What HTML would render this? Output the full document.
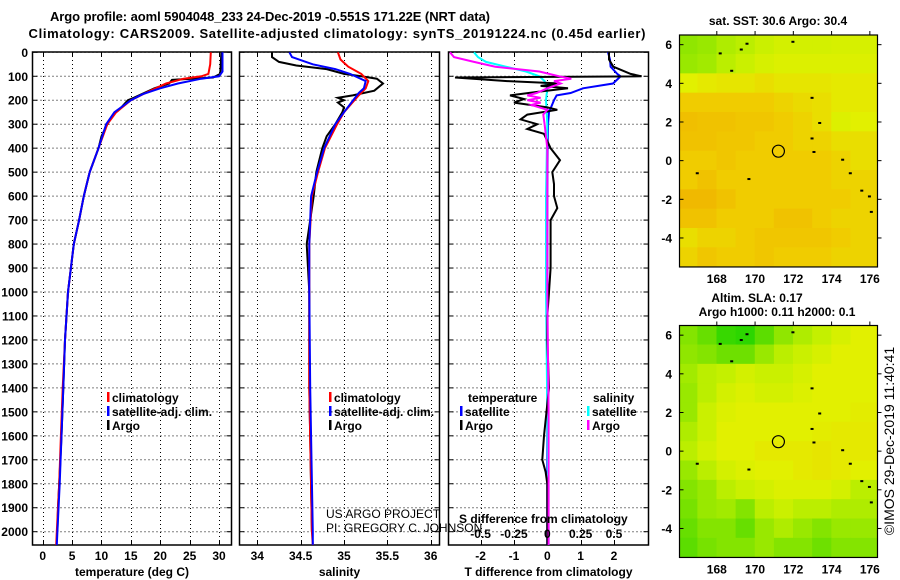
<!DOCTYPE html>
<html><head><meta charset="utf-8"><style>
html,body{margin:0;padding:0;background:#fff;}
svg{display:block;font-family:"Liberation Sans",sans-serif;}
.b{font-weight:bold;font-size:12px;}
.n{font-size:12px;}
</style></head><body>
<svg id="fig" width="900" height="580" viewBox="0 0 900 580" xmlns="http://www.w3.org/2000/svg">
<rect width="900" height="580" fill="#fff"/>
<text x="270" y="21" text-anchor="middle" class="b" style="font-size:13px" textLength="440">Argo profile: aoml 5904048_233 24-Dec-2019 -0.551S 171.22E (NRT data)</text>
<text x="337" y="38" text-anchor="middle" class="b" style="font-size:13px" textLength="617">Climatology: CARS2009. Satellite-adjusted climatology: synTS_20191224.nc (0.45d earlier)</text>
<g id="g"></g>
</svg>
<script>
// ---------- data ----------
const depthTicks = [0,100,200,300,400,500,600,700,800,900,1000,1100,1200,1300,1400,1500,1600,1700,1800,1900,2000];
const tempTicks = [0,5,10,15,20,25,30];
const salTicks = [34,34.5,35,35.5,36];
const tdiffTicks = [-2,-1,0,1,2];
const sdiffTicks = [-0.5,-0.25,0,0.25,0.5];
const latTicks = [6,4,2,0,-2,-4];
const lonTicks = [168,170,172,174,176];

const tClimDepth = [0,50,90,100,110,130,170,200,250,300,400,500,600,700,800,900,1000,1200,1400,1600,1800,2000,2055];
const tClim      = [28.6,28.5,28.2,27,24,21,17.5,15,12.5,11,9.5,8,7,6.2,5.3,4.8,4.3,3.8,3.4,3.1,2.8,2.4,2.3];
const tSatDepth  = [0,80,100,110,130,150,175,200,250,300,400,500,600,700,800,900,1000,1200,1400,1600,1800,2000,2055];
const tSat       = [30.6,30.6,30.0,27,23,20,17,15,12.2,10.8,9.5,8,7,6.2,5.3,4.8,4.3,3.8,3.5,3.2,2.9,2.5,2.4];
const tArgoDepth = [0,90,105,115,130,150,190,200,240,260,300,350,400,500,600,700,800,900,1000,1200,1400,1600,1800,1900,2000];
const tArgo      = [30.4,30.2,29,22,21.5,19,15.5,14.5,13,12,11,10,9.5,8,7,6.2,5.3,4.8,4.3,3.8,3.5,3.2,2.8,2.6,2.5];

const sClimDepth = [0,30,60,90,120,150,180,250,300,400,500,600,800,1000,1400,2000,2055];
const sClim      = [34.93,34.96,35.05,35.2,35.28,35.25,35.17,35.0,34.92,34.78,34.7,34.63,34.6,34.6,34.6,34.63,34.64];
const sSatDepth  = [0,20,50,70,90,120,150,170,250,300,400,500,600,800,1000,1400,2000,2055];
const sSat       = [34.37,34.4,34.64,34.9,35.07,35.25,35.23,35.17,35.0,34.9,34.77,34.69,34.62,34.6,34.6,34.61,34.64,34.64];
const sArgoDepth = [0,20,40,55,70,90,100,110,130,160,180,190,200,210,230,250,300,350,400,500,600,800,1000,1400,2000];
const sArgo      = [34.17,34.17,34.25,34.45,34.8,35.0,35.2,35.38,35.45,35.35,35.1,34.93,35.0,34.93,35.0,34.98,34.9,34.8,34.75,34.68,34.65,34.57,34.6,34.6,34.63];

const dTSatDepth = [0,30,60,90,100,130,150,170,180,200,250,300,400,600,1000,1500,2000,2055];
const dTSat      = [1.82,1.88,1.9,2.1,2.2,1.97,1.07,0.7,0.28,0.2,0.05,0.02,0.01,0,0,0,0,0];
const dTArgoDepth = [0,30,60,90,100,105,120,130,140,150,165,180,195,210,230,240,260,280,300,320,340,400,450,500,550,600,650,700,800,900,1000,1100,1200,1400,1600,1700,1750,1800,2000,2055];
const dTArgo      = [1.85,1.85,1.98,2.5,2.83,-2.77,-1.2,0.4,-0.2,0.62,-0.3,-1.12,-0.7,-1.0,0.0,0.3,-0.6,-0.8,-0.3,-0.6,-0.1,0.1,0.38,0.15,0.2,0.2,0.3,0.1,0.1,0.1,0.05,0,0,0.05,-0.1,-0.15,-0.05,0,0,0];
const dSSatDepth = [0,20,40,60,80,100,120,150,200,300,600,1000,1500,2000,2055];
const dSSat      = [-0.55,-0.52,-0.46,-0.31,-0.16,-0.06,-0.02,0,-0.01,0,-0.01,-0.01,0,0.01,0.01];
const dSArgoDepth = [0,20,40,60,80,100,110,120,130,150,170,180,190,200,210,220,240,260,300,400,1000,1500,2000,2055];
const dSArgo      = [-0.73,-0.7,-0.55,-0.39,-0.06,0.09,0.18,0.05,0.1,0.0,-0.08,-0.15,-0.05,-0.15,-0.05,-0.12,0,-0.03,-0.02,0,0,0.01,0.01,0.01];

// map grids: rows lat 6..-5 (1 deg cells), cols lon 166..176
const sstGrid = [
[.38,.4,.45,.48,.52,.55,.55,.55,.56,.56],
[.4,.42,.48,.52,.56,.58,.58,.58,.58,.58],
[.6,.62,.63,.63,.65,.63,.63,.63,.62,.62],
[.7,.7,.7,.7,.7,.68,.66,.65,.62,.62],
[.74,.73,.73,.72,.72,.7,.68,.65,.58,.6],
[.73,.73,.72,.72,.7,.7,.68,.68,.65,.65],
[.7,.7,.72,.7,.7,.7,.7,.7,.68,.65],
[.7,.73,.7,.7,.7,.7,.7,.7,.68,.68],
[.76,.76,.73,.7,.7,.7,.7,.7,.7,.68],
[.73,.73,.7,.7,.7,.73,.73,.7,.68,.68],
[.65,.68,.68,.7,.72,.72,.72,.72,.7,.68],
[.68,.72,.7,.7,.72,.7,.7,.7,.68,.68]];
const slaGrid = [
[.35,.28,.15,.12,.25,.38,.45,.5,.56,.6],
[.38,.35,.3,.3,.4,.48,.52,.56,.6,.6],
[.42,.48,.5,.55,.52,.52,.56,.6,.6,.6],
[.4,.48,.55,.58,.55,.55,.58,.6,.6,.6],
[.4,.52,.58,.6,.6,.6,.6,.6,.6,.61],
[.45,.52,.6,.6,.6,.6,.6,.61,.62,.62],
[.48,.55,.6,.6,.62,.62,.62,.63,.62,.62],
[.4,.48,.55,.58,.6,.6,.62,.63,.62,.6],
[.35,.4,.48,.52,.55,.58,.58,.58,.55,.48],
[.32,.4,.42,.35,.48,.52,.48,.48,.45,.45],
[.28,.35,.35,.28,.4,.45,.4,.35,.4,.4],
[.25,.32,.35,.35,.4,.35,.35,.3,.35,.35]];
const coastLon = [168.1,169.2,169.5,168.7,171.9,172.9,173.3,172.9,173.0,174.5,174.9,175.5,175.9,176.0,166.9,169.6];
const coastLat = [5.6,5.8,6.1,4.7,6.2,3.3,2.0,1.2,0.5,0.1,-0.6,-1.5,-1.8,-2.6,-0.6,-0.9];
const floatLon = 171.22, floatLat = 0.49;

// ---------- axes ----------
const NS="http://www.w3.org/2000/svg";
const G=document.getElementById('g');
function el(t,a,p){const e=document.createElementNS(NS,t);for(const k in a)e.setAttribute(k,a[k]);(p||G).appendChild(e);return e;}
const yD = d => 52.3 + d*0.2397;
const xT = v => 42.7 + v*5.877;
const xS = v => 257.3 + (v-34)*86.7;
const xDT = v => 547.3 + v*33.33;
const xDS = v => 547.3 + v*133.3;
const TOP=52, BOT=545;
const panels=[{x0:32.5,x1:231.5,ticks:tempTicks,f:xT,name:'temperature-panel',title:'temperature (deg C)'},
 {x0:239.5,x1:439.5,ticks:salTicks,f:xS,name:'salinity-panel',title:'salinity'},
 {x0:448.5,x1:648.5,ticks:tdiffTicks,f:xDT,name:'difference-panel',title:'T difference from climatology'}];

panels.forEach(p=>{
  const g=el('g',{});
  
  
  depthTicks.forEach(d=>{const y=yD(d);
    el('line',{x1:p.x0,x2:p.x1,y1:y,y2:y,stroke:'#000','stroke-width':1,'stroke-dasharray':'1,3'},g);
    el('line',{x1:p.x0,x2:p.x0+5,y1:y,y2:y,stroke:'#000'},g);
    el('line',{x1:p.x1-5,x2:p.x1,y1:y,y2:y,stroke:'#000'},g);});
  p.ticks.forEach(v=>{const x=Math.round(p.f(v))+0.5;
    el('line',{x1:x,x2:x,y1:TOP,y2:BOT,stroke:'#000','stroke-dasharray':'1,3'},g);
    el('line',{x1:x,x2:x,y1:BOT-5,y2:BOT,stroke:'#000'},g);
    el('line',{x1:x,x2:x,y1:TOP,y2:TOP+5,stroke:'#000'},g);
    const t=el('text',{x:p.f(v),y:560,'text-anchor':'middle',class:'b'},g);t.textContent=String(v);
    
    });
  el('rect',{x:p.x0,y:TOP,width:p.x1-p.x0,height:BOT-TOP,fill:'none',stroke:'#000','stroke-width':1.5},g);
  const tt=el('text',{x:(p.x0+p.x1)/2,y:576,'text-anchor':'middle',class:'b'},g);tt.textContent=p.title;
  
  
});
depthTicks.forEach(d=>{const t=el('text',{x:28,y:yD(d)+4.5,'text-anchor':'end',class:'b'});t.textContent=String(d);
  
  });

function line(depths,vals,fx,color,name,w){
  const pts=depths.map((d,i)=>fx(vals[i]).toFixed(1)+','+Math.min(yD(d),BOT).toFixed(1)).join(' ');
  const e=el('polyline',{points:pts,fill:'none',stroke:color,'stroke-width':w||2,'stroke-linejoin':'miter'});
  
  
}
line(tArgoDepth,tArgo,xT,'#000','temp-argo-line');
line(tClimDepth,tClim,xT,'#f00','temp-climatology-line');
line(tSatDepth,tSat,xT,'#00f','temp-satellite-line');
line(sArgoDepth,sArgo,xS,'#000','sal-argo-line');
line(sClimDepth,sClim,xS,'#f00','sal-climatology-line');
line(sSatDepth,sSat,xS,'#00f','sal-satellite-line');
line(dTSatDepth,dTSat,xDT,'#00f','tdiff-satellite-line');
line(dSSatDepth,dSSat,xDS,'#0ff','sdiff-satellite-line');
line(dTArgoDepth,dTArgo,xDT,'#000','tdiff-argo-line');
line(dSArgoDepth,dSArgo,xDS,'#f0f','sdiff-argo-line');

sdiffTicks.forEach(v=>{const t=el('text',{x:xDS(v),y:538,'text-anchor':'middle',class:'b'});t.textContent=String(v);
  
  });
function txt(x,y,s,name,cls,extra){const t=el('text',Object.assign({x:x,y:y,class:cls||'b'},extra||{}));t.textContent=s;
  return t;}
txt(459,523,'S difference from climatology','sdiff-axis-title');
function leg(x,y,c,s,name){el('rect',{x:x,y:y-10,width:2.5,height:10,fill:c});txt(x+5,y,s,name);}
leg(107,402,'#f00','climatology','legend-climatology');
leg(107,416,'#00f','satellite-adj. clim.','legend-satellite');
leg(107,430,'#000','Argo','legend-argo');
leg(329,402,'#f00','climatology','legend-climatology-sal');
leg(329,416,'#00f','satellite-adj. clim.','legend-satellite-sal');
leg(329,430,'#000','Argo','legend-argo-sal');
txt(468,402,'temperature','legend-temperature-head');
leg(460,416,'#00f','satellite','legend-tdiff-satellite');
leg(460,430,'#000','Argo','legend-tdiff-argo');
txt(593,402,'salinity','legend-salinity-head');
leg(587,416,'#0ff','satellite','legend-sdiff-satellite');
leg(587,430,'#f0f','Argo','legend-sdiff-argo');
txt(326,518,'US ARGO PROJECT','credit-project','n');
txt(326,532,'PI: GREGORY C. JOHNSON','credit-pi','n');

// ---------- maps ----------
const stops=[[0,[0,208,0]],[0.3,[110,224,0]],[0.5,[196,240,0]],[0.6,[226,240,0]],[0.7,[240,204,0]],[0.8,[240,172,0]]];
function col(v){for(let i=1;i<stops.length;i++){if(v<=stops[i][0]||i==stops.length-1){const a=stops[i-1],b=stops[i];let t=(v-a[0])/(b[0]-a[0]);t=Math.max(0,Math.min(1,t));
  return 'rgb('+a[1].map((c,k)=>Math.round(c+(b[1][k]-c)*t)).join(',')+')';}}}
function drawMap(top,grid,name,id){
  const X0=679.5,X1=877.5,lonA=166.05,lonB=176.4;
  const xL=l=>X0+(l-lonA)*(X1-X0)/(lonB-lonA);
  const y0=top+0.5*19.33+6*19.33; const yL=l=>y0-l*19.33;
  const g=el('g',{});
  
  
  const cp=el('clipPath',{id:id},g);el('rect',{x:X0,y:yL(6.5),width:X1-X0,height:yL(-5.5)-yL(6.5)},cp);
  const cg=el('g',{'clip-path':'url(#'+id+')'},g);
  grid.forEach((row,r)=>row.forEach((v,c)=>{
    const lat=6.5-r, lon=166+c;
    const cell=el('rect',{x:xL(lon)-0.3,y:yL(lat)-0.3,width:xL(lon+1)-xL(lon)+(c==9?20:0.6),height:yL(lat-1)-yL(lat)+0.6,fill:col(v)},cg);
    
    
  }));
  coastLon.forEach((l,i)=>{el('rect',{x:xL(l),y:yL(coastLat[i]),width:3,height:2,fill:'#000'},cg);});
  const m=el('circle',{cx:xL(floatLon),cy:yL(floatLat),r:6,fill:'none',stroke:'#000','stroke-width':1.2},g);
  
  
  el('rect',{x:X0,y:yL(6.5),width:X1-X0,height:yL(-5.5)-yL(6.5),fill:'none',stroke:'#000','stroke-width':1.2},g);
  latTicks.forEach(l=>{const y=yL(l);el('line',{x1:X0,x2:X0+4,y1:y,y2:y,stroke:'#000'},g);el('line',{x1:X1,x2:X1+4,y1:y,y2:y,stroke:'#000'},g);
    const t=el('text',{x:672,y:y+4.5,'text-anchor':'end',class:'b'},g);t.textContent=String(l);
    });
  lonTicks.forEach(l=>{const x=xL(l);el('line',{x1:x,x2:x,y1:yL(6.5)-4,y2:yL(6.5),stroke:'#000'},g);
    const t=el('text',{x:x,y:yL(-5.5)+16,'text-anchor':'middle',class:'b'},g);t.textContent=String(l);
    });
}
drawMap(35,sstGrid,'sst-map','c1');
drawMap(325.5,slaGrid,'sla-map','c2');
txt(778,25,'sat. SST: 30.6 Argo: 30.4','sst-map-title','b',{'text-anchor':'middle'});
txt(757,302,'Altim. SLA: 0.17','sla-map-title','b',{'text-anchor':'middle'});
txt(777,316,'Argo h1000: 0.11 h2000: 0.1','argo-height-title','b',{'text-anchor':'middle'});
txt(0,0,'\u00a9IMOS 29-Dec-2019 11:40:41','imos-stamp','n',{'text-anchor':'middle',style:'font-size:14px',transform:'translate(894,441) rotate(-90)'});
</script>
</body></html>
